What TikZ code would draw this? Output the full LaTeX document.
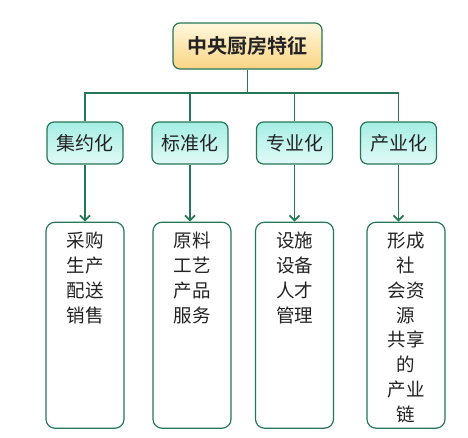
\documentclass[tikz,border=0pt]{standalone}
\usepackage{fontspec}
\setmainfont{Noto Sans CJK SC}[BoldFont={Noto Sans CJK SC Bold}]
\usetikzlibrary{positioning,arrows.meta}

\definecolor{linegreen}{RGB}{38,118,88}
\definecolor{titletop}{RGB}{255,248,222}
\definecolor{titlebottom}{RGB}{250,212,130}
\definecolor{cattop}{RGB}{165,238,228}
\definecolor{catbottom}{RGB}{225,250,246}
\definecolor{inkgray}{RGB}{35,35,35}

\newcommand{\detaillines}[1]{\parbox[t][186pt][t]{64pt}{\centering\fontsize{18.5}{24.8}\selectfont #1}}

\begin{document}
\begin{tikzpicture} [x=1pt,y=1pt,node distance=57pt,
    titlebox/.style={draw=linegreen,line width=1.2pt,rounded corners=7pt,top color=titletop,bottom color=titlebottom,minimum width=149pt,minimum height=46pt,font=\fontsize{20}{20}\selectfont\bfseries,text=inkgray},
    catbox/.style={draw=linegreen,line width=1.2pt,rounded corners=7pt,top color=cattop,bottom color=catbottom,minimum width=76pt,minimum height=42pt,font=\fontsize{19}{19}\selectfont,text=inkgray},
    detailbox/.style={draw=linegreen,line width=1.2pt,rounded corners=9pt,fill=white,minimum width=78pt,inner xsep=0pt,inner ysep=10pt,text=inkgray},
    link/.style={draw=linegreen,line width=1.8pt},
    flow/.style={link,-{Straight Barb[length=5pt,width=10pt]}}]
    \useasboundingbox (0,0) rectangle (468,-437);

    \node[titlebox] (kitchen) at (247.5,-46) {中央厨房特征};
    \coordinate (bus) at (247.5,-93);

    \node[catbox] (intensive) at (85,-143) {集约化};
    \node[catbox] (standard) at (190,-143) {标准化};
    \node[catbox] (special) at (294.5,-143) {专业化};
    \node[catbox] (industry) at (398.5,-143) {产业化};

    \node[detailbox,below=of intensive] (purchase) {\detaillines{采购\\生产\\配送\\销售}};
    \node[detailbox,below=of standard,xshift=2pt] (material) {\detaillines{原料\\工艺\\产品\\服务}};
    \node[detailbox,below=of special] (facility) {\detaillines{设施\\设备\\人才\\管理}};
    \node[detailbox,below=of industry,xshift=7.5pt] (chain) {\detaillines{形成\\社\\会资\\源\\共享\\的\\产业\\链}};

    \draw[link] (kitchen.south) -- (bus);
    \draw[link] (intensive.north) |- (bus);
    \draw[link] (standard.north) |- (bus);
    \draw[link] (special.north) |- (bus);
    \draw[link] (industry.north) |- (bus);

    \path (intensive.south) edge [flow] (intensive.south |- purchase.north);
    \path (standard.south) edge [flow] (standard.south |- material.north);
    \path (special.south) edge [flow] (special.south |- facility.north);
    \path (industry.south) edge [flow] (industry.south |- chain.north);
\end{tikzpicture}
\end{document}
